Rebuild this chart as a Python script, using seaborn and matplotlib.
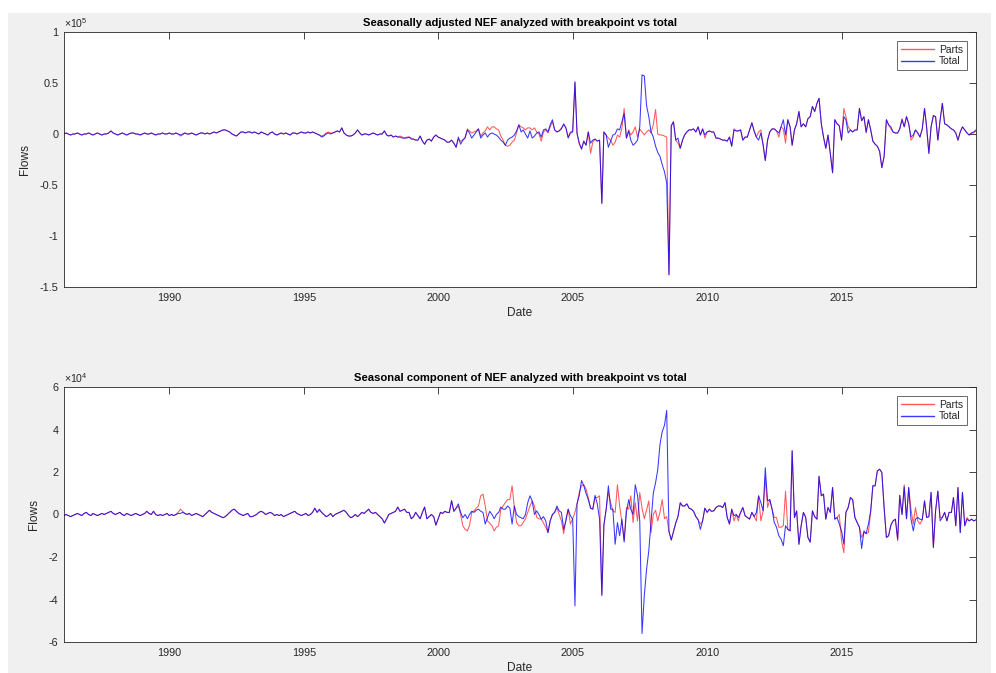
import numpy as np
import pandas as pd
import matplotlib
matplotlib.use("Agg")
import matplotlib.pyplot as plt
import matplotlib.dates as mdates
from matplotlib.ticker import FuncFormatter, MultipleLocator
from matplotlib.patches import Rectangle
from matplotlib.lines import Line2D
import seaborn as sns

# Monthly net external flows (thousands), one row per year, Jan..Dec, 1986..2019
sa_total = [
    [0, 1, 0, -1, 0, 0, 1, 0, -1, 0, 0, 1],                 # 1986
    [0, -1, 0, 1, 0, -1, 0, 0, 1, 3, 1, 0],                 # 1987
    [-1, 0, 1, 0, -1, 0, 1, 1, 0, 0, -1, 0],                # 1988
    [1, 0, 0, 1, 0, -1, 0, 0, 1, 0, 0, 1],                  # 1989
    [0, 0, 1, 0, -1, 0, 1, 0, 0, 1, 0, -1],                 # 1990
    [0, 1, 1, 0, 1, 0, 1, 2, 1, 2, 3, 4],                   # 1991
    [4, 3, 2, 0, -1, -2, 0, 2, 2, 1, 2, 2],                 # 1992
    [1, 2, 1, 0, 2, 1, 0, -1, 1, 2, 0, -1],                 # 1993
    [0, 1, 0, 1, 0, -1, 1, 1, 0, 1, 2, 1],                  # 1994
    [1, 2, 1, 2, 1, 0, -1, -3, -2, 0, 1, 0],                # 1995
    [1, 2, 3, 2, 6, 1, -1, -2, -2, -1, 1, 4],               # 1996
    [1, -1, 0, 0, -1, 0, 1, 0, -1, 0, 0, 3],                # 1997
    [-1, -2, -1, -3, -2, -3, -3, -4, -4, -4, -3, -5],       # 1998
    [-5, -6, -6, -2, -7, -10, -6, -5, -7, -3, -1, -3],      # 1999
    [-4, -5, -6, -8, -8, -6, -9, -13, -3, -10, -6, -4],     # 2000
    [4, 1, -4, -1, 2, 5, -4, -1, 1, -3, 0, 1],              # 2001
    [0, -1, -3, -6, -8, -11, -6, -4, -3, -1, 3, 9],         # 2002
    [2, 4, 0, -4, 3, -4, -2, 1, 2, -3, 4, 5],               # 2003
    [2, 9, 14, 4, 2, 3, 5, 10, 6, -4, 1, 2],                # 2004
    [51, 1, -9, -15, -7, -11, 2, -9, -6, -5, -7, -6],       # 2005
    [-68, 2, -1, -13, -7, -1, 0, 5, 4, 12, 20, -4],         # 2006
    [3, -6, -11, -9, -6, 7, 58, 57, 28, 17, 2, -3],         # 2007
    [-12, -18, -22, -30, -37, -48, -138, 8, 12, -6, -4, -14],  # 2008
    [-6, -1, 2, 4, 4, 5, 2, 7, -1, 5, -1, 2],               # 2009
    [3, 2, 2, -4, -4, -5, -6, -6, -7, -3, -12, 4],          # 2010
    [3, 3, 4, -6, -3, -3, 4, 11, 3, -3, -6, 1],             # 2011
    [-11, -26, -6, 2, 5, 5, 3, 1, 7, 14, -1, 14],           # 2012
    [7, -11, 4, 10, 22, 7, 10, 7, 15, 17, 27, 22],          # 2013
    [30, 35, 10, -3, -14, -1, -19, -38, 14, 10, 8, -6],     # 2014
    [17, 14, 1, 4, 2, 4, 4, 25, 13, 17, 2, 14],             # 2015
    [4, -7, -10, -12, -17, -33, -22, 14, 9, 7, 2, 1],       # 2016
    [1, 5, 14, 7, 17, 10, -3, -1, 4, 1, -3, 5],             # 2017
    [25, 7, -19, 7, 18, 17, -6, 14, 30, 10, 9, 7],          # 2018
    [5, 4, 1, -6, 2, 7, 4, 1, -1, 1, 2, 4],                 # 2019
]

sa_parts = [
    [0, 1, 0, -1, 0, 0, 1, 0, -1, 0, 0, 1],                 # 1986
    [0, -1, 0, 1, 0, -1, 0, 0, 1, 3, 1, 0],                 # 1987
    [-1, 0, 1, 0, -1, 0, 1, 1, 0, 0, -1, 0],                # 1988
    [1, 0, 0, 1, 0, -1, 0, 0, 1, 0, 0, 1],                  # 1989
    [0, 0, 1, 0, -2, -1, 1, 0, 0, 1, 0, -1],                # 1990
    [0, 1, 1, 0, 1, 0, 1, 2, 1, 2, 3, 4],                   # 1991
    [4, 3, 2, 0, -1, -2, 0, 2, 2, 1, 2, 2],                 # 1992
    [1, 2, 1, 0, 2, 1, 0, -1, 1, 2, 0, -1],                 # 1993
    [0, 1, 0, 1, 0, -1, 1, 1, 0, 1, 2, 1],                  # 1994
    [1, 2, 1, 2, 1, 0, -1, -2, -1, 1, 2, 1],                # 1995
    [1, 2, 3, 2, 6, 1, -1, -2, -2, -1, 1, 4],               # 1996
    [1, -1, 0, 0, -1, 0, 1, 0, -1, 0, 0, 3],                # 1997
    [-1, -2, -1, -3, -2, -3, -2, -3, -4, -3, -3, -4],       # 1998
    [-5, -6, -6, -2, -7, -10, -6, -5, -7, -3, -1, -3],      # 1999
    [-4, -5, -6, -8, -8, -6, -9, -13, -5, -7, -6, -3],      # 2000
    [5, 3, 1, 2, 3, 5, -2, 1, 3, 7, 4, 7],                  # 2001
    [7, 5, 4, -2, -6, -11, -12, -11, -8, -6, 1, 9],         # 2002
    [7, 6, 4, 6, 6, 4, 6, 2, 0, -7, 2, 4],                  # 2003
    [1, 7, 12, 4, 2, 3, 6, 9, 6, -3, 2, 3],                 # 2004
    [51, 0, -10, -14, -7, -11, 2, -19, -8, -5, -7, -6],     # 2005
    [-68, 2, -1, -4, -6, -11, -8, -1, -3, 6, 25, -4],       # 2006
    [4, -1, 2, 7, -3, 5, 2, -1, 2, 4, 1, 9],                # 2007
    [24, 0, -1, -1, -2, -3, -138, 8, 12, -6, -9, -14],      # 2008
    [-6, -1, 2, 4, 4, 5, 2, 7, -1, 5, -4, 2],               # 2009
    [3, 2, 2, -4, -4, -5, -6, -6, -7, -3, -12, 5],          # 2010
    [3, 3, 4, -6, -3, -3, 4, 11, 3, -3, 2, 4],              # 2011
    [-11, -26, -6, 2, 5, 5, 3, -3, 7, 5, -9, 14],           # 2012
    [7, -11, 4, 10, 22, 7, 10, 7, 15, 17, 27, 22],          # 2013
    [30, 35, 10, -3, -14, -1, -19, -38, 14, 10, 8, -6],     # 2014
    [25, 17, 7, 4, 2, 4, 4, 25, 13, 17, 1, 14],             # 2015
    [4, -7, -10, -12, -17, -33, -22, 14, 9, 5, 2, 1],       # 2016
    [1, 5, 15, 7, 17, 10, -6, -3, 4, 1, -3, 5],             # 2017
    [25, 7, -19, 7, 18, 17, -6, 14, 30, 10, 9, 7],          # 2018
    [5, 4, 1, -6, 2, 7, 4, 1, -1, 1, 1, 3],                 # 2019
]

sc_total = [
    [-0.5, 0, -0.5, -1, -0.5, 0, 0.5, 0, -0.5, 0.5, 1, 0],       # 1986
    [-0.5, 0.5, 0, -0.5, 0, 0.5, 0, 0.5, 1, 1.5, 0.5, 0],        # 1987
    [0.5, 1, 0, -0.5, 0.5, 0, -0.5, 0, 0.5, 0, -0.5, 0],         # 1988
    [0.5, 1.5, 0.5, 0, 1.5, 0, -0.5, 0, -0.5, 0, 0.5, -0.5],     # 1989
    [0, -0.5, 0, 0.5, 0.5, 1, 0.5, 0, 0.5, -0.5, 0, 0.5],        # 1990
    [0, -0.5, -1, 0, 1, 2, 1, 0.5, 0, -0.5, -1, -1.5],           # 1991
    [-1, 0, 1, 2, 2.5, 1.5, 0.5, 0, -0.5, 0, 0.5, -1],           # 1992
    [-1, -0.5, 0, 1, 1.5, 1, 0, 0.5, 1, 0.5, -0.5, 0],           # 1993
    [-0.5, 0, -1, -0.5, 0, 0.5, 1, 1.5, 0.5, 0, -0.5, 0],        # 1994
    [0.5, -0.5, 0, 1, 3, 1, 2.5, 1, 0, -1, -0.5, 0.5],           # 1995
    [-1, 0, 0.5, 1, 1.5, 2, 1, -0.5, -1.5, -1, 0, -1],           # 1996
    [0, 1, 0.5, 1.5, 2.5, 1, 0.5, 1, 0, -1, -2, -4],             # 1997
    [-2, 0, 0.5, 1, 1.5, 3.5, 1.5, 2, 2.5, 1, 1, -2],            # 1998
    [-1, 1, -0.5, -2, 1, 3.5, -2, -1, 0, -1, -5, -2],            # 1999
    [1, 0.5, 1.5, 1, 1, 6.5, 1.5, 3, 5, 1, -1.5, 0],             # 2000
    [-2, 0, 1.5, 1, 2, 2.5, 1.5, 1, -4.5, -1.5, 1.5, 0],         # 2001
    [-2, 0, 1, 3.5, 2.5, 2.5, 4, 3, -4.5, 4, 0, -1],             # 2002
    [-1.5, -2, 0, 5.5, 8.8, 6.4, 0, 1.7, 0, -2.2, -1, -3],       # 2003
    [-8.5, -3, 0, 1, 4, 1.7, 1, -7, -3, 2.5, -0.6, -2.2],        # 2004
    [-43, 5, 9, 16, 13.5, 10, 7, 3, 2.5, 9, 5, -2],              # 2005
    [-38, -5, 2.5, 13.5, 2.5, 2.5, -14, -3.8, -10, -2.2, -13, 1],  # 2006
    [7, 2.5, 0, 14, 9, -3, -56, -38, -26, -17, -4, 10],          # 2007
    [15, 21, 33, 39, 42, 49, -8, -12, -8, -4, -1, 5.5],          # 2008
    [4, 4, 5, 3, 2.5, 1.5, -1, -2.5, -7, -3, 3, 1],              # 2009
    [2.5, 1.5, 1.7, 3.3, 4, 4, 3.3, 5.6, -1.4, -4.5, 2.5, -0.6], # 2010
    [0, -1.4, 1, 3.3, -0.6, -1.4, -2.2, 1, -1, 1, 8.8, 5.6],     # 2011
    [1.7, 22, 6.4, 7, 2.5, -3.8, -6, -10, -11.6, -14.7, -5.3, -7],  # 2012
    [-7.7, 30, -1.4, 1.7, -14, -5.3, 1, -1.4, -10.8, -13, 1.7, -1], # 2013
    [-2.2, 18, 8.8, 9.6, -2.2, 3.3, 1, 12.7, -2.2, -1.4, -4.5, -7.7],  # 2014
    [-14, 1, 3.3, 8, 7, -1.4, -3.8, -6, -16, -7.7, -9, -4.5],    # 2015
    [1.7, 13.5, 13.5, 20.5, 21.3, 19.8, 3.3, -10.8, -10, -5, -3, -2.2],  # 2016
    [-11.6, 9, 0, 13, -2, 12.7, -2.2, -7.7, -2.2, -1.4, -2.2, -2.5],    # 2017
    [6.4, -1.4, -1, 10.4, -15.5, 1.7, 11, -3, -1.4, 1, -3, 1],   # 2018
    [1, 8, -5.3, 12.7, -8.5, 10.4, -5.3, -2.2, -3, -2.2, -3, -2.5],  # 2019
]

sc_parts = [
    [-0.5, 0, -0.5, -1, -0.5, 0, 0.5, 0, -0.5, 0.5, 1, 0],       # 1986
    [-0.5, 0.5, 0, -0.5, 0, 0.5, 0, 0.5, 1, 1.5, 0.5, 0],        # 1987
    [0.5, 1, 0, -0.5, 0.5, 0, -0.5, 0, 0.5, 0, -0.5, 0],         # 1988
    [0.5, 1.5, 0.5, 0, 1.5, 0, -0.5, 0, -0.5, 0, 0.5, -0.5],     # 1989
    [0, -0.5, 0, 1, 2.5, 1.5, 0.5, 0, 0.5, -0.5, 0, 0.5],        # 1990
    [0, -0.5, -1, 0, 1, 2, 1, 0.5, 0, -0.5, -1, -1.5],           # 1991
    [-1, 0, 1, 2, 2.5, 1.5, 0.5, 0, -0.5, 0, 0.5, -1],           # 1992
    [-1, -0.5, 0, 1, 1.5, 1, 0, 0.5, 1, 0.5, -0.5, 0],           # 1993
    [-0.5, 0, -1, -0.5, 0, 0.5, 1, 1.5, 0.5, 0, -0.5, 0],        # 1994
    [0.5, -0.5, 0, 1, 3, 1, 2, 1, 0, -1, -0.5, 0.5],             # 1995
    [-1, 0, 0.5, 1, 1.5, 2, 1, -0.5, -1.5, -1, 0, -1],           # 1996
    [0, 1, 0.5, 1.5, 2.5, 1, 0.5, 1, 0, -1, -2, -4],             # 1997
    [-2, 0, 0.5, 1, 1.5, 3.5, 1.5, 2, 2.5, 1, 1, -2],            # 1998
    [-1, 1, -0.5, -2, 1, 3.5, -2, -1, 0, -1, -5, -2],            # 1999
    [1, 0.5, 1.5, 1, 1, 6.5, 1.5, 3, 4, 0, -5.3, -7],            # 2000
    [-7.7, -5.3, 1, 1.7, 3, 4, 8.8, 9.6, 4, -3, -4, -5.3],       # 2001
    [-7.7, -6, -5.3, 2.5, 4, 5.6, 7, 7, 13.5, 3.3, -3.8, -5.3],  # 2002
    [-5.3, -3.8, -2, 1, 4, 6.4, 4, -1.4, -2, -2.2, -4, -6],      # 2003
    [-8.5, -3, 0, 1, 3, 0, -3, -9, -2, 2.5, -4.5, -2],           # 2004
    [1, 5, 10.5, 13.5, 14, 12, 8, 3, 2.5, 8, 8, 8.8],            # 2005
    [-38, -5, 2.5, 10.5, 5.5, 1.7, 1, 14, 4, -3.8, -12, 3.3],    # 2006
    [2.5, 8.8, -3.8, 5.6, -3, 10.3, 3, -2, 2, 6.4, -8.5, 0],     # 2007
    [2, -3, 1, 7, -2, -1, -8, -12, -8, -4, -1, 5.5],             # 2008
    [4, 4, 5, 3, 2.5, 1.5, -1, -2.5, -4.5, -3, 3, 1],            # 2009
    [2.5, 1.5, 1.7, 3.3, 4, 4, 3.3, 5.6, -1.4, -4.5, 2.5, -3],   # 2010
    [0, -3, 1, 3.3, -0.6, -1.4, -2.2, 1, -1, -3, 8.8, -3],       # 2011
    [1.7, 17.4, 3.3, 7, 2.5, -1.4, -1.4, -6, -6, -5.3, 11, -7],  # 2012
    [-7.7, 30, -1.4, 1.7, -14, -5.3, 1, -1.4, -10.8, -13, 1.7, -1], # 2013
    [-2.2, 18, 8.8, 9.6, -2.2, 3.3, 1, 12.7, -2.2, -1.4, 0, -12.4], # 2014
    [-18, 1, 3.3, 8, 7, -1.4, -3.8, -6, -10.8, -8.5, -9, -8.5],  # 2015
    [1.7, 13.5, 13.5, 20.5, 21.3, 19.8, 3.3, -10.8, -10, -5, -3, -2.2],  # 2016
    [-12.4, 9, 0, 14, -2, 12.7, 2.5, -4.5, 3.3, -3, -4.5, -2.5],  # 2017
    [6.4, -1.4, -1, 10.4, -15.5, 1.7, 11, -1.4, -1.4, 1, -3, 1], # 2018
    [1, 8, -5.3, 12.7, -8.5, 10.4, -5.3, -1.4, -3, -2.2, -3, -2.5],  # 2019
]

series_names = ["Parts", "Total"]
series_colors = {"Parts": "#ff0000", "Total": "#0000ff"}
series_alpha = {"Parts": 0.65, "Total": 0.78}
line_width = 0.75

panels = [
    {"title": "Seasonally adjusted NEF analyzed with breakpoint vs total",
     "parts": sa_parts, "total": sa_total,
     "ylim": (-150000, 100000), "ystep": 50000, "exp": 5},
    {"title": "Seasonal component of NEF analyzed with breakpoint vs total",
     "parts": sc_parts, "total": sc_total,
     "ylim": (-60000, 60000), "ystep": 20000, "exp": 4},
]

dates = pd.date_range("1986-01-31", periods=34 * 12, freq="ME")

sns.set_style("white")
plt.rcParams["font.family"] = ["Liberation Sans", "DejaVu Sans"]
plt.rcParams["mathtext.fontset"] = "custom"
plt.rcParams["mathtext.rm"] = "Liberation Sans"

fig = plt.figure(figsize=(9.96, 6.73), dpi=100)
fig.patch.set_facecolor("white")
fig.add_artist(Rectangle((8 / 996, 0), (991 - 8) / 996, 1 - 13 / 673,
                         transform=fig.transFigure, facecolor="#f0f0f0",
                         edgecolor="none", zorder=-10))

axes_boxes = [
    [64 / 996, 1 - 287 / 673, (976 - 64) / 996, (287 - 32) / 673],
    [64 / 996, 1 - 642 / 673, (976 - 64) / 996, (642 - 387) / 673],
]

edge = "#262626"
for box, panel in zip(axes_boxes, panels):
    ax = fig.add_axes(box)
    ax.set_facecolor("white")
    parts = np.array(panel["parts"], dtype=float).ravel() * 1000
    total = np.array(panel["total"], dtype=float).ravel() * 1000
    df = pd.DataFrame({
        "Date": np.concatenate([dates, dates]),
        "Flows": np.concatenate([parts, total]),
        "Series": ["Parts"] * len(dates) + ["Total"] * len(dates),
    })
    sns.lineplot(data=df, x="Date", y="Flows", hue="Series",
                 hue_order=series_names, palette=series_colors,
                 linewidth=line_width, ax=ax, legend=False)
    for line, name in zip(ax.get_lines()[:2], series_names):
        line.set_alpha(series_alpha[name])

    ax.set_xlim(dates[0], dates[-1])
    ax.set_ylim(*panel["ylim"])
    ax.yaxis.set_major_locator(MultipleLocator(panel["ystep"]))
    scale = 10 ** panel["exp"]
    ax.yaxis.set_major_formatter(FuncFormatter(lambda v, p, s=scale: f"{v / s:g}"))
    ax.xaxis.set_major_locator(mdates.YearLocator(5))
    ax.xaxis.set_major_formatter(mdates.DateFormatter("%Y"))

    for sp in ax.spines.values():
        sp.set_visible(True)
        sp.set_color(edge)
        sp.set_linewidth(0.6)
    ax.tick_params(axis="both", which="major", direction="in", top=True, right=True,
                   length=5, width=0.6, color=edge, labelsize=7.8,
                   labelcolor="#262626", pad=4)

    ax.set_title(panel["title"], fontsize=8.1, fontweight="bold", pad=4, color="black")
    ax.set_xlabel("Date", fontsize=8.6, labelpad=3, color="#262626")
    ax.set_ylabel("Flows", fontsize=8.6, labelpad=6, color="#262626")
    ax.text(0.0, 1.006, r"$\times10^{%d}$" % panel["exp"], transform=ax.transAxes,
            ha="left", va="bottom", fontsize=7.6, color="#262626")

    handles = [Line2D([], [], color=series_colors[n], alpha=series_alpha[n],
                      linewidth=1.0) for n in series_names]
    leg = ax.legend(handles=handles, labels=series_names,
                    loc="upper right", frameon=True, fancybox=False,
                    edgecolor=edge, fontsize=7.4, handlelength=3.2,
                    handletextpad=0.5, borderpad=0.35, labelspacing=0.15,
                    borderaxespad=0.9)
    leg.get_frame().set_linewidth(0.6)

fig.savefig("out.png", dpi=100, facecolor=fig.get_facecolor())
